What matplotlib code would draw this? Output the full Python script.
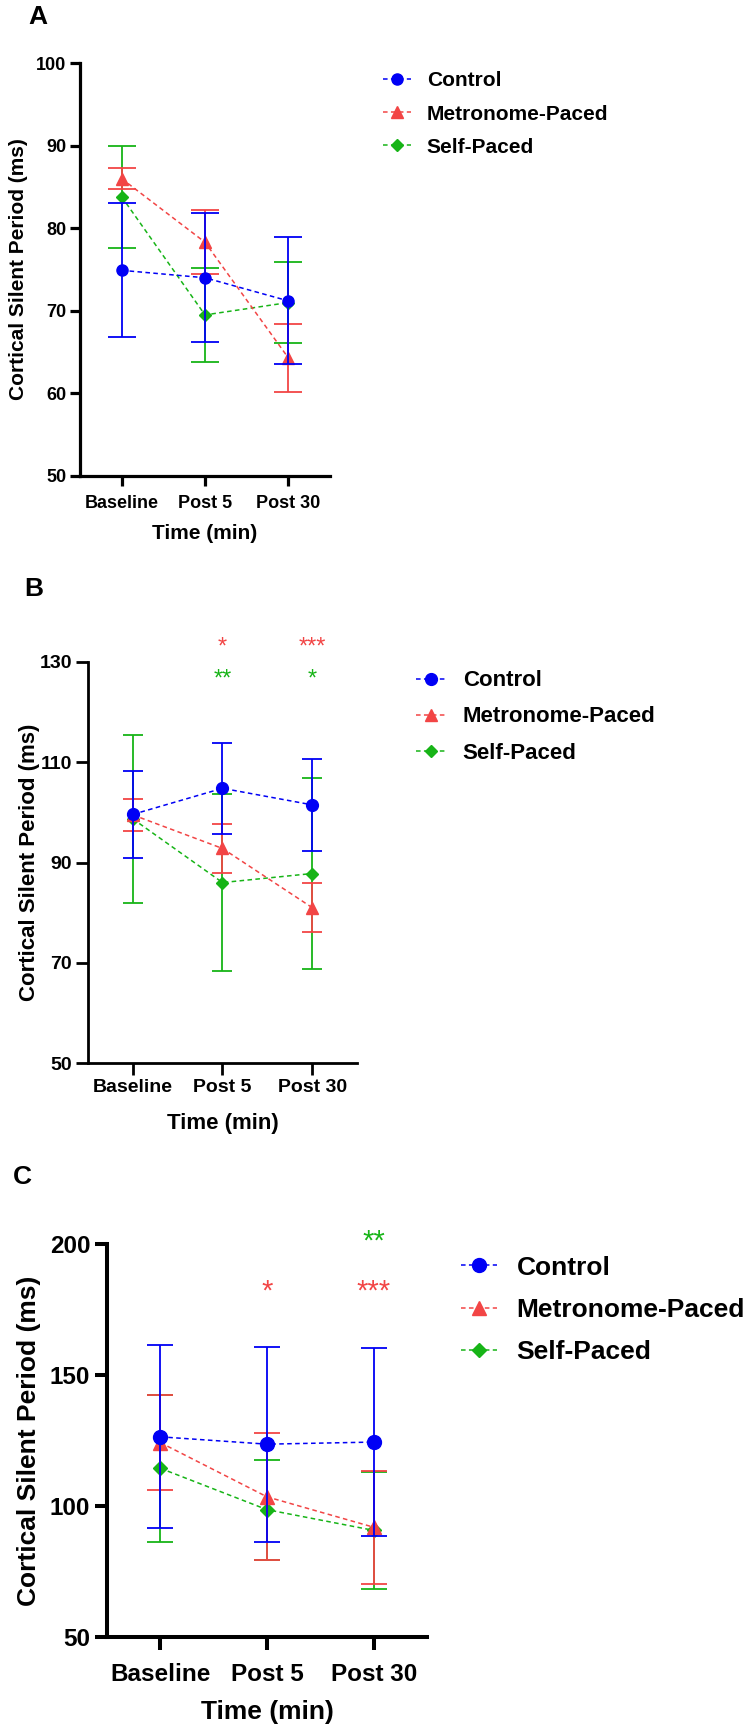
import matplotlib
matplotlib.use('Agg')
import matplotlib.pyplot as plt

plt.rcParams['font.family'] = ['Liberation Sans', 'DejaVu Sans']
plt.rcParams['font.weight'] = 'bold'

# data
time_labels = ['Baseline', 'Post 5', 'Post 30']
groups = ['Control', 'Metronome-Paced', 'Self-Paced']

# panel A
a_control = [74.9, 74.0, 71.2]
a_control_err = [8.1, 7.8, 7.7]
a_metro = [86.0, 78.3, 64.3]
a_metro_err = [1.3, 3.9, 4.1]
a_self = [83.8, 69.5, 71.0]
a_self_err = [6.2, 5.7, 4.9]

# panel B
b_control = [99.6, 104.8, 101.5]
b_control_err = [8.7, 9.1, 9.2]
b_metro = [99.5, 92.8, 81.0]
b_metro_err = [3.2, 4.9, 4.9]
b_self = [98.7, 86.0, 87.8]
b_self_err = [16.8, 17.6, 19.1]

# panel C
c_control = [126.4, 123.6, 124.4]
c_control_err = [34.9, 37.2, 36.0]
c_metro = [124.2, 103.5, 91.9]
c_metro_err = [18.2, 24.2, 21.5]
c_self = [114.4, 98.6, 90.7]
c_self_err = [28.1, 19.1, 22.3]

# significance stars: (time index, text, group, y value)
b_stars = [(1, '*', 'Metronome-Paced', 132.8), (2, '***', 'Metronome-Paced', 132.8),
           (1, '**', 'Self-Paced', 126.5), (2, '*', 'Self-Paced', 126.5)]
c_stars = [(1, '*', 'Metronome-Paced', 182.0), (2, '***', 'Metronome-Paced', 182.0),
           (2, '**', 'Self-Paced', 200.8)]

colors = {'Control': '#0000F5', 'Metronome-Paced': '#F24545', 'Self-Paced': '#17B417'}
markers = {'Control': 'o', 'Metronome-Paced': '^', 'Self-Paced': 'D'}

W, H = 754, 1730
fig = plt.figure(figsize=(W / 100, H / 100), dpi=100)


def rect(left, right, top, bottom):
    return [left / W, 1 - bottom / H, (right - left) / W, (bottom - top) / H]


panels = [
    dict(letter='A', letter_xy=(38, 17), box=rect(80, 330, 63, 476),
         ylim=(50, 100), yticks=[50, 60, 70, 80, 90, 100],
         series=[(a_self, a_self_err), (a_metro, a_metro_err), (a_control, a_control_err)],
         stars=[], tick_fs=13, label_fs=15, leg_fs=15, spine=2.3, ticklen=7,
         ms=8, cap=10, leg_xy=(383, 114), leg_sp=0.68, ylpad=6, xtpad=6.5, xlpad=9,
         star_fs=17),
    dict(letter='B', letter_xy=(34, 589), box=rect(88, 357, 662, 1063),
         ylim=(50, 130), yticks=[50, 70, 90, 110, 130],
         series=[(b_self, b_self_err), (b_metro, b_metro_err), (b_control, b_control_err)],
         stars=b_stars, tick_fs=14, label_fs=16, leg_fs=16, spine=2.0, ticklen=8.5,
         ms=8.5, cap=7.5, leg_xy=(416, 717), leg_sp=0.68, ylpad=0, xtpad=3, xlpad=12.5,
         star_fs=17),
    dict(letter='C', letter_xy=(22, 1177), box=rect(107, 427, 1244, 1637),
         ylim=(50, 200), yticks=[50, 100, 150, 200],
         series=[(c_self, c_self_err), (c_metro, c_metro_err), (c_control, c_control_err)],
         stars=c_stars, tick_fs=17.5, label_fs=19, leg_fs=19, spine=2.9, ticklen=9,
         ms=10, cap=9.5, leg_xy=(461, 1310), leg_sp=0.7, ylpad=6, xtpad=10, xlpad=10,
         star_fs=21),
]

order = ['Self-Paced', 'Metronome-Paced', 'Control']
x = [0, 1, 2]

for p in panels:
    ax = fig.add_axes(p['box'])
    handles = {}
    for z, (name, (means, errs)) in enumerate(zip(order, p['series'])):
        c = colors[name]
        ms = p['ms'] * (0.75 if name == 'Self-Paced' else 1.0)
        ax.errorbar(x, means, yerr=errs, fmt='none', ecolor=c, elinewidth=1.3,
                    capsize=p['cap'], capthick=1.3, zorder=2 + 2 * z, clip_on=False)
        line, = ax.plot(x, means, linestyle=(0, (3, 2.2)), lw=1.1, color=c,
                        marker=markers[name], markersize=ms, label=name,
                        zorder=3 + 2 * z, clip_on=False)
        handles[name] = line

    for xi, txt, name, yv in p['stars']:
        ax.text(xi, yv, txt, color=colors[name], fontsize=p['star_fs'],
                fontweight='normal', ha='center', va='center', clip_on=False)

    ax.set_xlim(-0.5, 2.5)
    ax.set_ylim(*p['ylim'])
    ax.set_yticks(p['yticks'])
    ax.set_xticks(x)
    ax.set_xticklabels(time_labels)
    for s in ['top', 'right']:
        ax.spines[s].set_visible(False)
    for s in ['left', 'bottom']:
        ax.spines[s].set_linewidth(p['spine'])
    ax.tick_params(axis='both', width=p['spine'], length=p['ticklen'],
                   labelsize=p['tick_fs'])
    ax.tick_params(axis='y', pad=3)
    ax.tick_params(axis='x', pad=p['xtpad'])
    ax.set_ylabel('Cortical Silent Period (ms)', fontsize=p['label_fs'],
                  fontweight='bold', labelpad=p['ylpad'])
    ax.set_xlabel('Time (min)', fontsize=p['label_fs'], fontweight='bold',
                  labelpad=p['xlpad'])

    lx, ly = p['leg_xy']
    ax.legend([handles[g] for g in groups], groups, loc='center left',
              bbox_to_anchor=(lx / W, 1 - ly / H), bbox_transform=fig.transFigure,
              frameon=False, borderpad=0, borderaxespad=0, numpoints=1,
              handlelength=1.35, handletextpad=0.75, labelspacing=p['leg_sp'],
              prop=dict(weight='bold', size=p['leg_fs']))

    fx, fy = p['letter_xy']
    fig.text(fx / W, 1 - fy / H, p['letter'], fontsize=19, fontweight='bold',
             ha='center', va='center')

fig.savefig('out.png', dpi=100)
